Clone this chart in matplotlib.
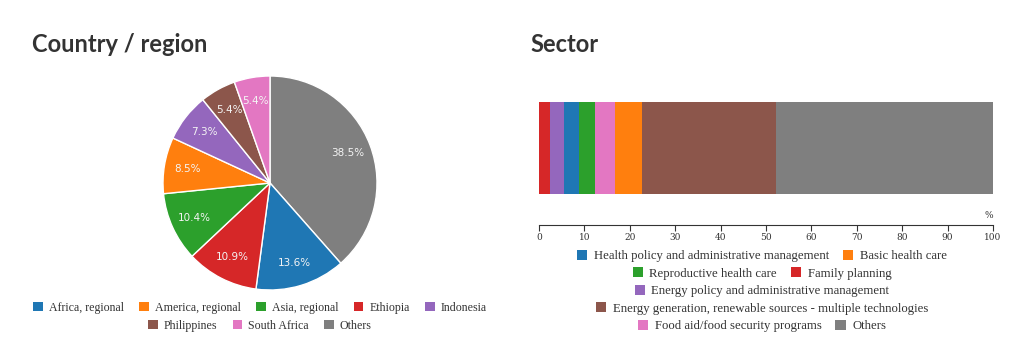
import matplotlib
matplotlib.use('Agg')
import matplotlib.pyplot as plt
from matplotlib.patches import Patch

# Country / region (pie, clockwise from the top)
pie_labels = ['Others', 'Africa, regional', 'Ethiopia', 'Asia, regional',
              'America, regional', 'Indonesia', 'Philippines', 'South Africa']
pie_values = [38.5, 13.6, 10.9, 10.4, 8.5, 7.3, 5.4, 5.4]

# Sector (stacked bar, left to right)
bar_labels = ['Family planning', 'Energy policy and administrative management',
              'Health policy and administrative management', 'Reproductive health care',
              'Food aid/food security programs', 'Basic health care',
              'Energy generation, renewable sources - multiple technologies', 'Others']
bar_values = [2.5, 2.9, 3.5, 3.5, 4.3, 6.0, 29.5, 47.8]

colors = {
    'Africa, regional': '#1f77b4', 'America, regional': '#ff7f0e',
    'Asia, regional': '#2ca02c', 'Ethiopia': '#d62728', 'Indonesia': '#9467bd',
    'Philippines': '#8c564b', 'South Africa': '#e377c2', 'Others': '#7f7f7f',
    'Health policy and administrative management': '#1f77b4',
    'Basic health care': '#ff7f0e', 'Reproductive health care': '#2ca02c',
    'Family planning': '#d62728',
    'Energy policy and administrative management': '#9467bd',
    'Energy generation, renewable sources - multiple technologies': '#8c564b',
    'Food aid/food security programs': '#e377c2',
}

pie_legend_rows = [
    ['Africa, regional', 'America, regional', 'Asia, regional', 'Ethiopia', 'Indonesia'],
    ['Philippines', 'South Africa', 'Others'],
]
bar_legend_rows = [
    ['Health policy and administrative management', 'Basic health care'],
    ['Reproductive health care', 'Family planning'],
    ['Energy policy and administrative management'],
    ['Energy generation, renewable sources - multiple technologies'],
    ['Food aid/food security programs', 'Others'],
]

W, H = 1024, 363
fig = plt.figure(figsize=(W / 100, H / 100), dpi=100)
fig.patch.set_facecolor('white')

def px(x0, y0, x1, y1):
    return [x0 / W, 1 - y1 / H, (x1 - x0) / W, (y1 - y0) / H]

title_font = dict(family='Lato', weight='bold', size=17, color='#333333')
fig.text(32 / W, 1 - 44 / H, 'Country / region', va='center', ha='left', **title_font)
fig.text(530 / W, 1 - 44 / H, 'Sector', va='center', ha='left', **title_font)

# pie
cx, cy, r = 270, 183, 107
ax1 = fig.add_axes(px(cx - r, cy - r, cx + r, cy + r))
wedges, texts, autotexts = ax1.pie(
    pie_values, colors=[colors[l] for l in pie_labels], startangle=90,
    counterclock=False, autopct='%.1f%%', pctdistance=0.78,
    wedgeprops=dict(edgecolor='white', linewidth=1),
    textprops=dict(color='#f4f4f4', fontsize=7.5, family='DejaVu Sans'))
ax1.set_xlim(-1, 1)
ax1.set_ylim(-1, 1)
ax1.set_aspect('equal')

# stacked bar
ax2 = fig.add_axes(px(539, 102, 993, 225))
left = 0
for lab, v in zip(bar_labels, bar_values):
    ax2.barh(0.252, v, left=left, height=0.748, align='edge', color=colors[lab], linewidth=0)
    left += v
ax2.set_xlim(0, 100)
ax2.set_ylim(0, 1)
ax2.set_yticks([])
ax2.set_xticks(range(0, 101, 10))
for s in ['top', 'left', 'right']:
    ax2.spines[s].set_visible(False)
ax2.spines['bottom'].set_color('#333333')
ax2.spines['bottom'].set_linewidth(0.8)
ax2.tick_params(axis='x', length=4, width=0.8, color='#333333', labelsize=6.5,
                labelcolor='#333333', pad=2)
for t in ax2.get_xticklabels():
    t.set_family('DejaVu Serif')
ax2.text(99, 0.04, '%', ha='center', va='bottom', fontsize=6.5, color='#333333',
         family='DejaVu Serif')

def legend_row(names, xc, yc, size=9.2, spacing=1.1):
    handles = [Patch(facecolor=colors[n], edgecolor='none') for n in names]
    leg = fig.legend(handles, names, loc='center', bbox_to_anchor=(xc / W, 1 - yc / H),
                     ncol=len(names), frameon=False, handlelength=0.8, handleheight=0.8,
                     handletextpad=0.5, columnspacing=spacing, borderpad=0,
                     prop=dict(family='Liberation Serif', size=size))
    for t in leg.get_texts():
        t.set_color('#333333')

for i, row in enumerate(pie_legend_rows):
    legend_row(row, 260, 308 + i * 18, size=8.6, spacing=1.3)
for i, row in enumerate(bar_legend_rows):
    legend_row(row, 762, 256 + i * 17.5)

fig.savefig('out.png', dpi=100, facecolor='white')
